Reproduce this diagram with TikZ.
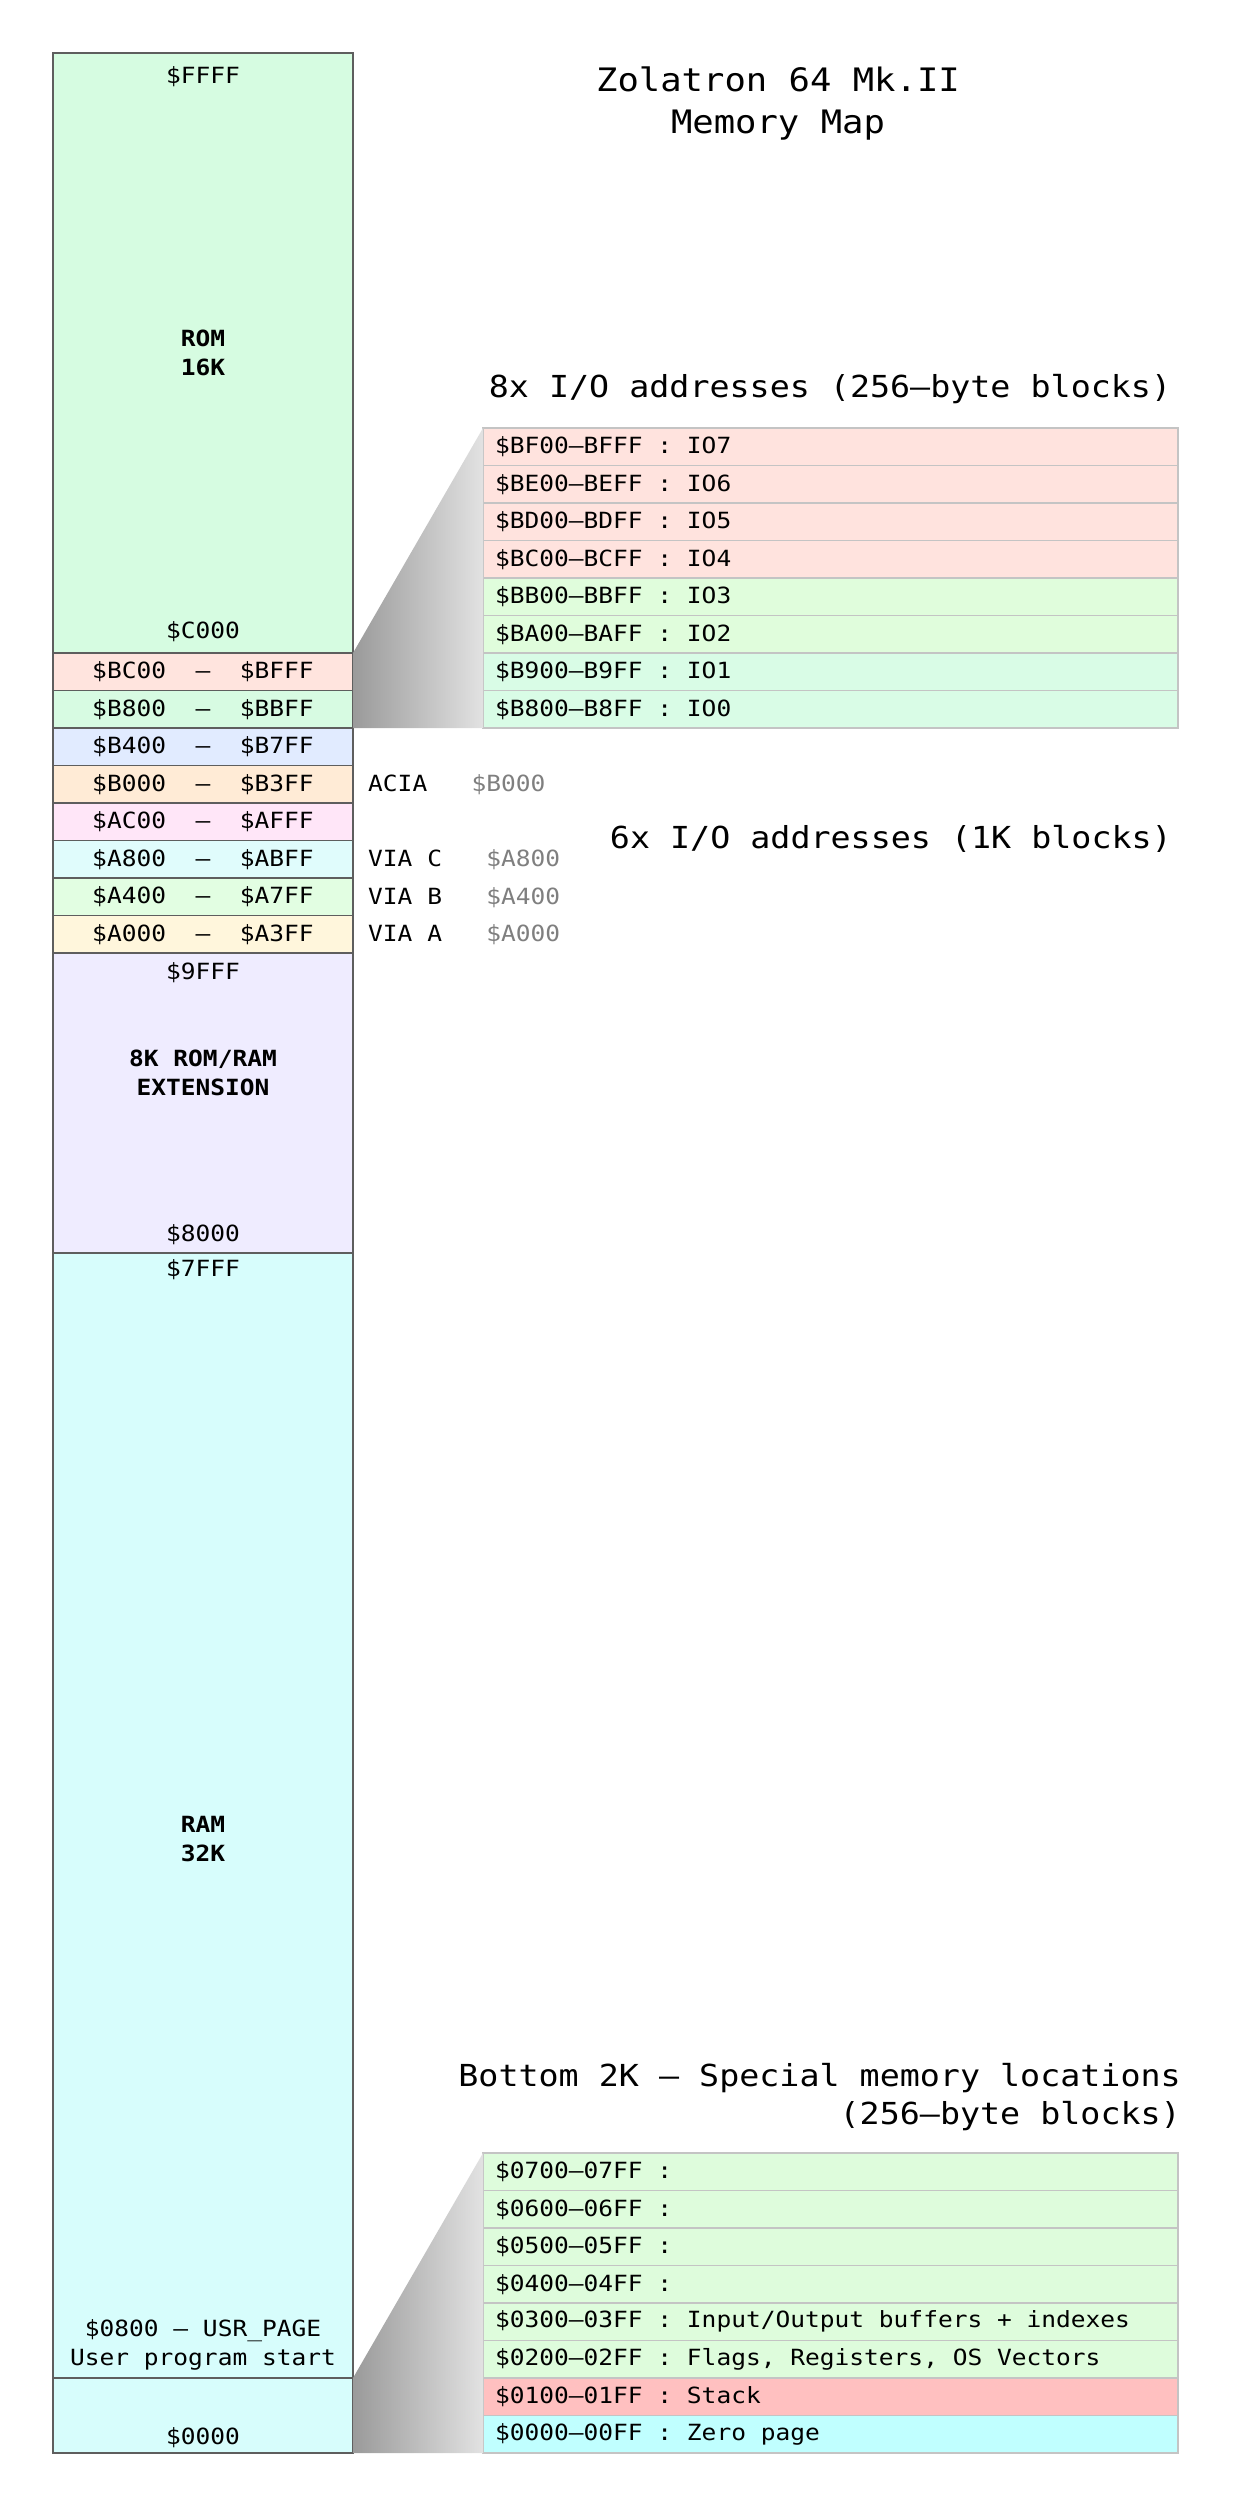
\documentclass[tikz,border=0pt]{standalone}
\usepackage{fontspec}
\setmonofont[FakeStretch=1.1]{DejaVu Sans Mono}

% fills
\definecolor{edge}{HTML}{5E5E5E}
\definecolor{boxedge}{HTML}{C4C4C4}
\definecolor{romfill}{HTML}{D6FCE1}
\definecolor{extfill}{HTML}{EFECFF}
\definecolor{ramfill}{HTML}{D7FDFC}
\definecolor{cBC}{HTML}{FFE4DE}
\definecolor{cB8}{HTML}{D7FBE2}
\definecolor{cB4}{HTML}{E1EBFF}
\definecolor{cB0}{HTML}{FFEBD6}
\definecolor{cAC}{HTML}{FFE6F8}
\definecolor{cA8}{HTML}{E0FCFC}
\definecolor{cA4}{HTML}{E2FEE2}
\definecolor{cA0}{HTML}{FFF6DC}
\definecolor{ioRed}{HTML}{FFE3DE}
\definecolor{ioLime}{HTML}{E0FDDC}
\definecolor{ioMint}{HTML}{D9FCE6}
\definecolor{lowGreen}{HTML}{DEFCDC}
\definecolor{stackRed}{HTML}{FFC0C0}
\definecolor{zeroCyan}{HTML}{C0FFFF}
\definecolor{addrGray}{HTML}{7F7F7F}
\definecolor{funnelL}{HTML}{9A9A9A}
\definecolor{funnelR}{HTML}{E2E2E2}

\newcommand\monosmall{\ttfamily\fontsize{22.3pt}{29pt}\selectfont}
\newcommand\monohead{\ttfamily\fontsize{30.3pt}{38pt}\selectfont}
\newcommand\monotitle{\ttfamily\fontsize{32.3pt}{42pt}\selectfont}
% left-aligned text inside a fixed-width table row
\newcommand\rowtext[1]{\makebox[671pt][l]{#1}}

\begin{document}
\begin{tikzpicture}[x=1pt,y=-1pt,
  region/.style={draw=edge, line width=1.8pt, minimum width=300pt,
    inner sep=0pt, outer sep=0pt, anchor=north west},
  memrow/.style={region, minimum height=37.5pt, font=\monosmall},
  iorow/.style={draw=boxedge, line width=1.8pt, minimum height=37.5pt,
    inner xsep=12pt, inner ysep=0pt, outer sep=0pt, anchor=north west,
    font=\monosmall},
  lbl/.style={font=\monosmall, inner sep=0pt},
  blbl/.style={font=\monosmall\bfseries, inner sep=0pt, align=center},
  side/.style={font=\monosmall, inner sep=0pt, anchor=west},
  head/.style={font=\monohead, inner sep=0pt},
]
\useasboundingbox (0,0) rectangle (1241,2506);

% ---- main memory column ----
\node[region, fill=romfill, minimum height=600pt] (rom) at (53,53) {};
\node[memrow, fill=cBC] (rBC) at (53,653)   {\$BC00\ \ –\ \ \$BFFF};
\node[memrow, fill=cB8] (rB8) at (53,690.5) {\$B800\ \ –\ \ \$BBFF};
\node[memrow, fill=cB4] (rB4) at (53,728)   {\$B400\ \ –\ \ \$B7FF};
\node[memrow, fill=cB0] (rB0) at (53,765.5) {\$B000\ \ –\ \ \$B3FF};
\node[memrow, fill=cAC] (rAC) at (53,803)   {\$AC00\ \ –\ \ \$AFFF};
\node[memrow, fill=cA8] (rA8) at (53,840.5) {\$A800\ \ –\ \ \$ABFF};
\node[memrow, fill=cA4] (rA4) at (53,878)   {\$A400\ \ –\ \ \$A7FF};
\node[memrow, fill=cA0] (rA0) at (53,915.5) {\$A000\ \ –\ \ \$A3FF};
\node[region, fill=extfill, minimum height=300pt] (ext) at (53,953) {};
\node[region, fill=ramfill, minimum height=1125pt] (ram) at (53,1253) {};
\node[region, fill=ramfill, minimum height=75pt] (low) at (53,2378) {};

% region labels
\node[lbl] (romtop) at (203,77) {\$FFFF};
\node[blbl] (romname) at (203,353) {ROM\\16K};
\node[lbl] (rombot) at (203,632) {\$C000};
\node[lbl] (exttop) at (203,973) {\$9FFF};
\node[blbl] (extname) at (203,1073) {8K ROM/RAM\\EXTENSION};
\node[lbl] (extbot) at (203,1235) {\$8000};
\node[lbl] (ramtop) at (203,1270) {\$7FFF};
\node[blbl] (ramname) at (203,1839) {RAM\\32K};
\node[lbl, align=center] (usrpage) at (203,2345) {\$0800 – USR\_PAGE\\User program start};
\node[lbl] (lowbot) at (203,2438) {\$0000};

% devices beside the I/O rows
\node[side] (acia) at (368,785)   {ACIA\ \ \ \textcolor{addrGray}{\$B000}};
\node[side] (viac) at (368,860)   {VIA C\ \ \ \textcolor{addrGray}{\$A800}};
\node[side] (viab) at (368,897.5) {VIA B\ \ \ \textcolor{addrGray}{\$A400}};
\node[side] (viaa) at (368,935)   {VIA A\ \ \ \textcolor{addrGray}{\$A000}};

% ---- title ----
\node[font=\monotitle, align=center, inner sep=0pt] (title) at (778,103)
  {Zolatron 64 Mk.II\\Memory Map};

% ---- 8x I/O expansion ----
\node[head] (iohead) at (830,389) {8x I/O addresses (256–byte blocks)};
\node[head, anchor=east] (io6head) at (1172,839) {6x I/O addresses (1K blocks)};

\node[iorow, fill=ioRed]  (io7) at (483,428)   {\rowtext{\$BF00–BFFF : IO7}};
\node[iorow, fill=ioRed]  (io6) at (483,465.5) {\rowtext{\$BE00–BEFF : IO6}};
\node[iorow, fill=ioRed]  (io5) at (483,503)   {\rowtext{\$BD00–BDFF : IO5}};
\node[iorow, fill=ioRed]  (io4) at (483,540.5) {\rowtext{\$BC00–BCFF : IO4}};
\node[iorow, fill=ioLime] (io3) at (483,578)   {\rowtext{\$BB00–BBFF : IO3}};
\node[iorow, fill=ioLime] (io2) at (483,615.5) {\rowtext{\$BA00–BAFF : IO2}};
\node[iorow, fill=ioMint] (io1) at (483,653)   {\rowtext{\$B900–B9FF : IO1}};
\node[iorow, fill=ioMint] (io0) at (483,690.5) {\rowtext{\$B800–B8FF : IO0}};

\shade[left color=funnelL, right color=funnelR]
  (rBC.north east) -- (io7.north west) -- (io0.south west) -- (rB8.south east) -- cycle;

% ---- bottom 2K expansion ----
\node[head, anchor=east, align=right] (lowhead) at (1181,2097)
  {Bottom 2K – Special memory locations\\(256–byte blocks)};

\node[iorow, fill=lowGreen] (p7) at (483,2153)   {\rowtext{\$0700–07FF :}};
\node[iorow, fill=lowGreen] (p6) at (483,2190.5) {\rowtext{\$0600–06FF :}};
\node[iorow, fill=lowGreen] (p5) at (483,2228)   {\rowtext{\$0500–05FF :}};
\node[iorow, fill=lowGreen] (p4) at (483,2265.5) {\rowtext{\$0400–04FF :}};
\node[iorow, fill=lowGreen] (p3) at (483,2303)   {\rowtext{\$0300–03FF : Input/Output buffers + indexes}};
\node[iorow, fill=lowGreen] (p2) at (483,2340.5) {\rowtext{\$0200–02FF : Flags, Registers, OS Vectors}};
\node[iorow, fill=stackRed] (p1) at (483,2378)   {\rowtext{\$0100–01FF : Stack}};
\node[iorow, fill=zeroCyan] (p0) at (483,2415.5) {\rowtext{\$0000–00FF : Zero page}};

\shade[left color=funnelL, right color=funnelR]
  (low.north east) -- (p7.north west) -- (p0.south west) -- (low.south east) -- cycle;
\end{tikzpicture}
\end{document}
